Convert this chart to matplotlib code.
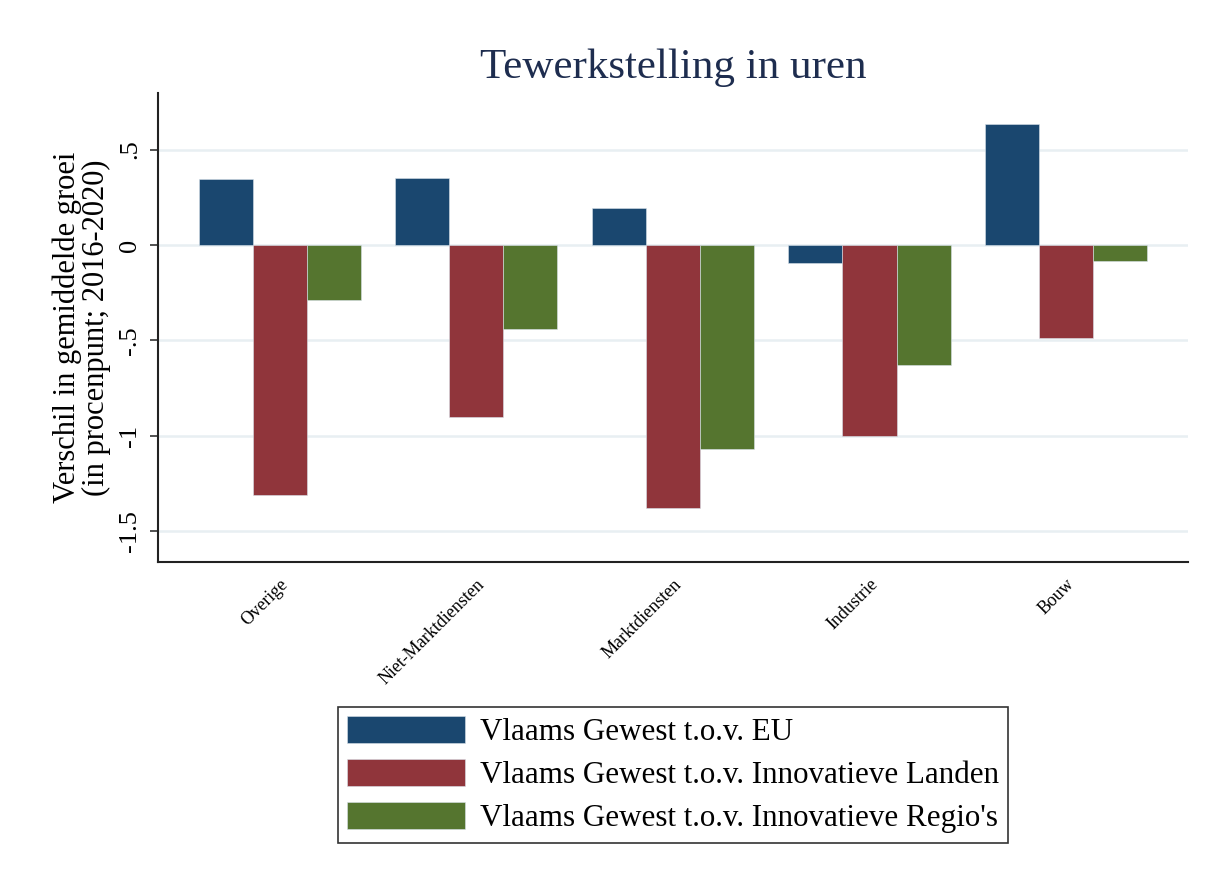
import numpy as np
import matplotlib.pyplot as plt

plt.rcParams['font.family'] = ['Liberation Serif', 'DejaVu Serif']

sectors = ['Overige', 'Niet-Marktdiensten', 'Marktdiensten', 'Industrie', 'Bouw']
eu = [0.346, 0.351, 0.194, -0.094, 0.634]
landen = [-1.309, -0.900, -1.377, -1.000, -0.487]
regios = [-0.288, -0.440, -1.068, -0.628, -0.084]

series_labels = ['Vlaams Gewest t.o.v. EU',
                 'Vlaams Gewest t.o.v. Innovatieve Landen',
                 "Vlaams Gewest t.o.v. Innovatieve Regio's"]
colors = ['#1a476f', '#90353b', '#55752f']

yticks = [-1.5, -1, -0.5, 0, 0.5]
yticklabels = ['-1.5', '-1', '-.5', '0', '.5']

fig = plt.figure(figsize=(12.14, 8.86), dpi=100)
ax = fig.add_axes([0.130, 0.3657, 0.8486, 0.5293])

x = np.arange(len(sectors))
w = 0.275
for i, (vals, c, lab) in enumerate(zip([eu, landen, regios], colors, series_labels)):
    ax.bar(x + (i - 1) * w, vals, width=w, color=c, edgecolor='#d8e2ea',
           linewidth=0.4, label=lab, zorder=3)

ax.set_xlim(-0.62, 4.62)
ax.set_ylim(-1.66, 0.796)
ax.set_yticks(yticks)
ax.set_yticklabels(yticklabels, rotation=90, va='center', fontsize=19)
ax.yaxis.grid(True, color='#e8eff2', linewidth=1.8, zorder=0)
ax.set_axisbelow(True)

ax.set_xticks(x)
ax.set_xticklabels(sectors, rotation=45, ha='right', va='top',
                   rotation_mode='anchor', fontsize=13)
ax.tick_params(axis='x', length=0, pad=10)
ax.tick_params(axis='y', length=6, width=1.2, color='#333333', pad=6)

for side in ['top', 'right']:
    ax.spines[side].set_visible(False)
for side in ['left', 'bottom']:
    ax.spines[side].set_linewidth(1.5)
    ax.spines[side].set_color('#222222')

ax.set_ylabel('Verschil in gemiddelde groei\n(in procenpunt; 2016-2020)',
              fontsize=22, linespacing=1.0, labelpad=6)

fig.text(673 / 1214, 1 - 68 / 886, 'Tewerkstelling in uren', ha='center',
         va='center', fontsize=31, color='#1e2d4f')

leg = fig.legend(loc='upper center', bbox_to_anchor=(673 / 1214, 1 - 707 / 886),
                 fontsize=22.3, frameon=True, fancybox=False, handlelength=3.8,
                 handleheight=0.97, labelspacing=0.38, borderpad=0.3,
                 handletextpad=0.5, borderaxespad=0)
leg.get_frame().set_edgecolor('black')
leg.get_frame().set_linewidth(1.2)

fig.savefig('out.png', dpi=100, facecolor='white')
